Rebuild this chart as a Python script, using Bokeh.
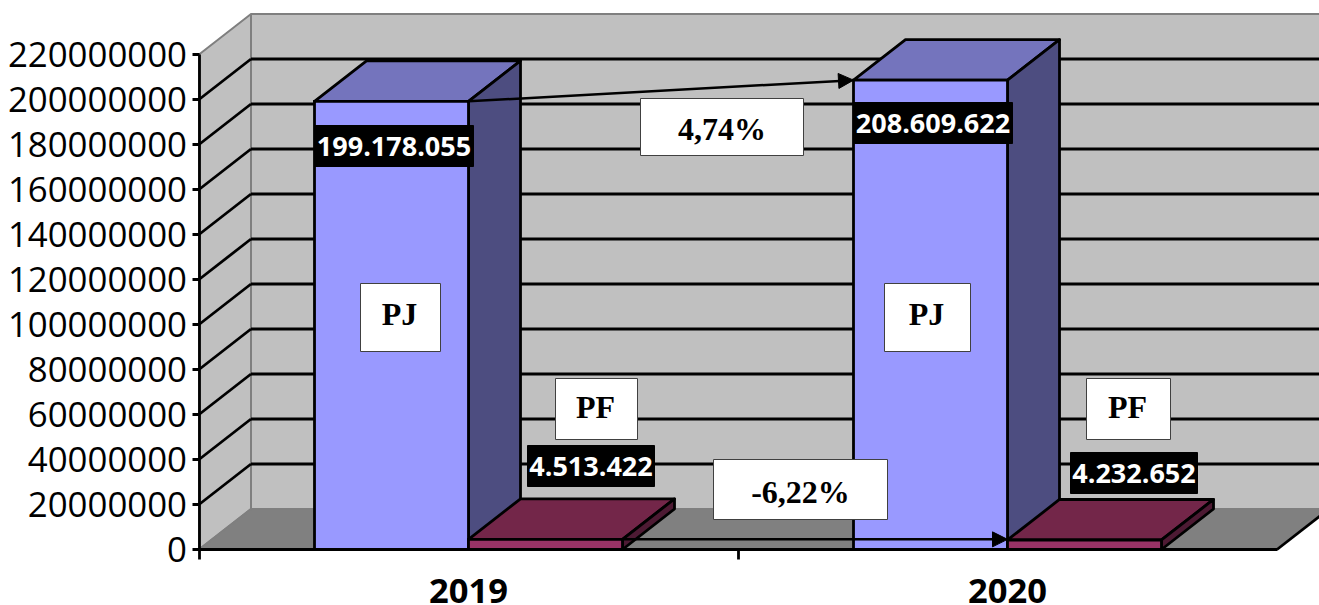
from bokeh.plotting import figure
from bokeh.embed import file_html
from bokeh.resources import INLINE
from bokeh.core.properties import value
from bokeh.models import Arrow, NormalHead, FixedTicker, Range1d

categories = ["2019", "2020"]
pj_values = [199178055, 208609622]
pf_values = [4513422, 4232652]
pj_labels = ["199.178.055", "208.609.622"]
pf_labels = ["4.513.422", "4.232.652"]
y_ticks = [0, 20000000, 40000000, 60000000, 80000000, 100000000, 120000000,
           140000000, 160000000, 180000000, 200000000, 220000000]
change_labels = ["4,74%", "-6,22%"]

W, H = 1319, 605
PX_LEFT, PX_ZERO = 198.5, 549    # pixel position of the plot origin
UNIT_X = 539.0                   # pixels per category
UNIT_Y = 2.25e-6                 # pixels per value unit
DX, DY = 52 / UNIT_X, 40.5 / UNIT_Y   # 3D depth
BAR = 1 / 3.5
GAP = 0.75 / 3.5
YMAX = y_ticks[-1]
NCAT = len(categories)
LW = 2.8


def X(px):
    return (px - PX_LEFT) / UNIT_X


def Y(py):
    return (PX_ZERO - py) / UNIT_Y


p = figure(width=W, height=H, output_backend="svg", toolbar_location=None,
           x_range=Range1d(X(0), X(W)), y_range=Range1d(Y(H), Y(0)),
           min_border=0, outline_line_color=None, background_fill_color="white")
p.grid.visible = False

WALL, FLOOR, EDGE = "#C0C0C0", "#808080", "#7F7F7F"

# walls and floor
p.quad(left=DX, right=NCAT + DX, bottom=DY, top=YMAX + DY, fill_color=WALL, line_color=EDGE, line_width=2)
p.patch([0, DX, DX, 0], [0, DY, YMAX + DY, YMAX], fill_color=WALL, line_color=EDGE, line_width=2)
p.patch([0, DX, NCAT + DX, NCAT], [0, DY, DY, 0], fill_color=FLOOR, line_color=None)
p.line([DX, NCAT + DX], [DY, DY], line_color=EDGE, line_width=2)
p.line([0, DX], [0, DY], line_color=EDGE, line_width=2)
p.line([NCAT, NCAT + DX], [0, DY], line_color="black", line_width=LW)

# gridlines
grid = y_ticks[1:-1]
p.multi_line([[DX, NCAT + DX] for _ in grid], [[t + DY, t + DY] for t in grid],
             line_color="black", line_width=LW)
p.multi_line([[0, DX] for _ in grid], [[t, t + DY] for t in grid], line_color="black", line_width=LW)


def bar3d(x0, v, front, top, side):
    x1 = x0 + BAR
    p.patch([x0, x1, x1 + DX, x0 + DX], [v, v, v + DY, v + DY], fill_color=top, line_color="black", line_width=LW, line_join="round")
    p.patch([x1, x1 + DX, x1 + DX, x1], [0, DY, v + DY, v], fill_color=side, line_color="black", line_width=LW, line_join="round")
    p.quad(left=x0, right=x1, bottom=0, top=v, fill_color=front, line_color="black", line_width=LW, line_join="miter")


for i in range(NCAT):
    x0 = i + GAP
    bar3d(x0, pj_values[i], "#9999FF", "#7474BD", "#4D4D80")
for i in range(NCAT):
    x0 = i + GAP + BAR
    bar3d(x0, pf_values[i], "#993366", "#732649", "#4D1A33")


def box(l, r, t, b, txt, fill, border, color, font, style, size, dx=0, dy=0):
    p.quad(left=X(l), right=X(r), top=Y(t), bottom=Y(b), fill_color=fill, line_color=border, line_width=1)
    p.text(x=[X((l + r) / 2 + dx)], y=[Y((t + b) / 2 + dy)], text=[txt], text_color=color,
           text_font=value(font), text_font_style=style, text_font_size=value(size),
           text_align="center", text_baseline="middle")


def note(l, r, t, b, txt, dx=0, dy=0):
    box(l, r, t, b, txt, "white", "#404040", "black", "Liberation Serif", "bold", "32px", dx, dy)


def tag(l, r, t, b, txt):
    box(l, r, t, b, txt, "black", "black", "white", "Open Sans", "bold", "27px")


note(360, 440, 283, 351, "PJ", -1, -4)
note(884, 970, 283, 351, "PJ", -1, -4)
note(555, 637, 378, 439, "PF", -1, -2)
note(1086, 1170, 378, 439, "PF", -1, -2)
note(640, 803, 98, 155, change_labels[0], 0, 2)
note(713, 887, 459, 519, change_labels[1], 0, 2)

tag(314, 473, 125, 166, pj_labels[0])
tag(853, 1012, 102, 143, pj_labels[1])
tag(527, 654, 445, 486, pf_labels[0])
tag(1070, 1197, 452, 493, pf_labels[1])

# change arrows, anchored on the bars
head = lambda: NormalHead(size=15, fill_color="black", line_color="black")
p.add_layout(Arrow(end=head(), line_color="black", line_width=2.5,
                   x_start=GAP + BAR, y_start=pj_values[0], x_end=1 + GAP, y_end=pj_values[1]))
p.add_layout(Arrow(end=head(), line_color="black", line_width=2.5,
                   x_start=GAP + 2 * BAR, y_start=pf_values[0], x_end=1 + GAP + BAR, y_end=pf_values[0]))

# axes
ya = p.yaxis[0]
ya.fixed_location = 0
ya.bounds = (0, YMAX)
ya.ticker = FixedTicker(ticks=y_ticks)
ya.major_label_overrides = {t: str(t) for t in y_ticks}
ya.major_label_text_font = "Open Sans"
ya.major_label_text_font_size = "34.8px"
ya.major_label_text_color = "black"
ya.major_label_standoff = 5
ya.major_tick_out, ya.major_tick_in = 7, 0
ya.minor_tick_out = ya.minor_tick_in = 0
ya.axis_line_color = ya.major_tick_line_color = "black"
ya.axis_line_width = ya.major_tick_line_width = LW

xa = p.xaxis[0]
xa.fixed_location = 0
xa.bounds = (0, NCAT)
xa.ticker = FixedTicker(ticks=[0.5, 1.5], minor_ticks=[0, 1])
xa.major_label_overrides = {i + 0.5: c for i, c in enumerate(categories)}
xa.major_label_text_font = "Open Sans"
xa.major_label_text_font_style = "bold"
xa.major_label_text_font_size = "34.5px"
xa.major_label_text_color = "black"
xa.major_label_standoff = 19
xa.major_tick_out = xa.major_tick_in = 0
xa.minor_tick_out, xa.minor_tick_in = 10, 0
xa.axis_line_color = xa.minor_tick_line_color = "black"
xa.axis_line_width = xa.minor_tick_line_width = LW

open("out.html", "w").write(file_html(p, INLINE))
